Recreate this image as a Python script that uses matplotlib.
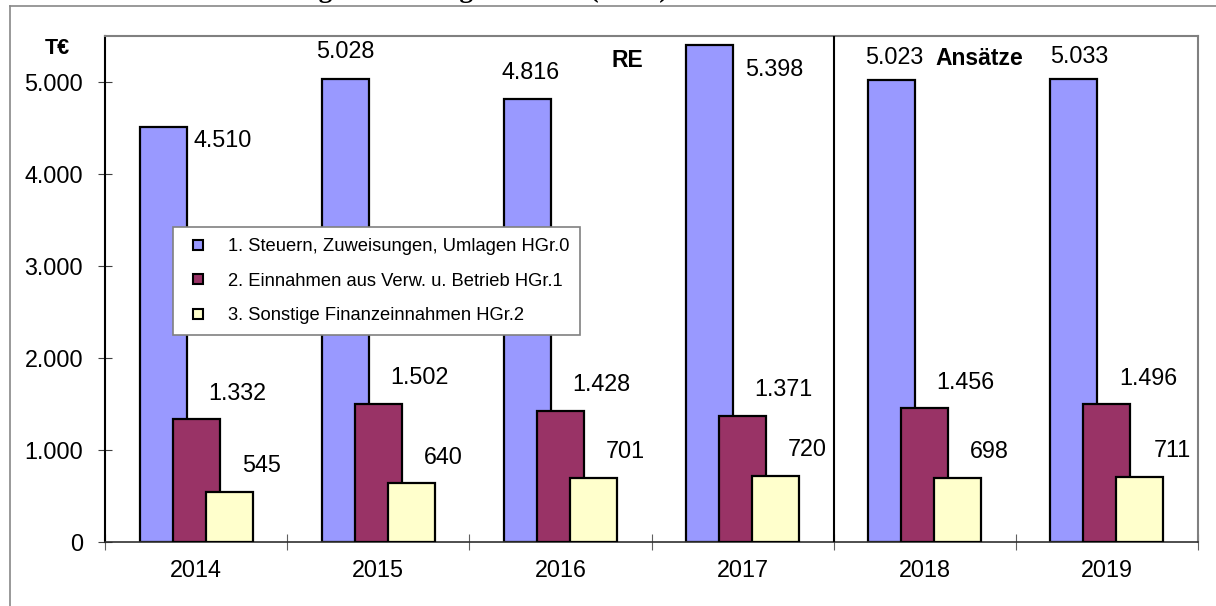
import matplotlib
matplotlib.use('Agg')
import matplotlib.pyplot as plt
from matplotlib.lines import Line2D
from matplotlib.ticker import FuncFormatter
import numpy as np

plt.rcParams['font.family'] = ['Liberation Sans', 'DejaVu Sans']

years = ['2014', '2015', '2016', '2017', '2018', '2019']
steuern = [4510, 5028, 4816, 5398, 5023, 5033]
einnahmen = [1332, 1502, 1428, 1371, 1456, 1496]
sonstige = [545, 640, 701, 720, 698, 711]
series_names = ['1. Steuern, Zuweisungen, Umlagen HGr.0',
                '2. Einnahmen aus Verw. u. Betrieb HGr.1',
                '3. Sonstige Finanzeinnahmen HGr.2']
colors = ['#9999FF', '#993366', '#FFFFCC']

# label offsets in pixels, the labels in the original were moved by hand
blue_offsets = [(60, -13), (0, 28), (3, 26), (65, -24), (2, 22), (5, 22)]
red_offset = (41, 26)
yellow_offset = (32, 26)


def de_fmt(v, pos=None):
    return f"{v:,.0f}".replace(',', '.')


fig = plt.figure(figsize=(12.16, 6.06), dpi=100)
ax = fig.add_axes([105 / 1216, 1 - 542 / 606, 1093 / 1216, 506 / 606])

x = np.arange(len(years))
step = 0.181
width = 0.258
series = [steuern, einnahmen, sonstige]
for i, vals in enumerate(series):
    ax.bar(x + (i - 1) * step, vals, width, color=colors[i],
           edgecolor='black', linewidth=1.6, zorder=2 + i)

for j in range(len(years)):
    dx, dy = blue_offsets[j]
    ax.annotate(de_fmt(steuern[j]), xy=(x[j] - step, steuern[j]), xytext=(dx, dy),
                textcoords='offset pixels', ha='center', va='center', fontsize=16.8)
    ax.annotate(de_fmt(einnahmen[j]), xy=(x[j], einnahmen[j]), xytext=red_offset,
                textcoords='offset pixels', ha='center', va='center', fontsize=16.8)
    ax.annotate(de_fmt(sonstige[j]), xy=(x[j] + step, sonstige[j]), xytext=yellow_offset,
                textcoords='offset pixels', ha='center', va='center', fontsize=16.8)

ax.set_xlim(-0.5, len(years) - 0.5)
ax.set_ylim(0, 5500)
ax.set_yticks(np.arange(0, 5001, 1000))
ax.yaxis.set_major_formatter(FuncFormatter(de_fmt))
ax.tick_params(axis='y', direction='inout', length=9.5, width=0.8, color='#404040',
               labelsize=16.8, pad=11)

ax.set_xticks(np.arange(-0.5, len(years)), minor=False)
ax.set_xticklabels([])
ax.set_xticks(x, minor=True)
ax.set_xticklabels(years, minor=True)
ax.tick_params(axis='x', which='major', direction='inout', length=11, width=0.8, color='#606060')
ax.tick_params(axis='x', which='minor', length=0, labelsize=16.8, pad=12)

ax.spines['left'].set_color('black')
ax.spines['left'].set_linewidth(1.5)
ax.spines['bottom'].set_color('#303030')
ax.spines['bottom'].set_linewidth(1.2)
ax.spines['top'].set_color('#808080')
ax.spines['top'].set_linewidth(1.5)
ax.spines['right'].set_color('#808080')
ax.spines['right'].set_linewidth(1.5)

# Rechnungsergebnisse / Ansaetze separator
ax.axvline(3.5, color='black', linewidth=1.5, zorder=6)
ax.text(2.365, 5230, 'RE', fontsize=16.5, fontweight='bold', ha='center', va='center')
ax.text(4.297, 5260, 'Ansätze', fontsize=16.5, fontweight='bold', ha='center', va='center')

fig.text(57 / 1216, 1 - 48 / 606, 'T€', fontsize=15.5, fontweight='bold', ha='center', va='center')

handles = [Line2D([], [], linestyle='none', marker='s', markersize=7.2,
                  markerfacecolor=c, markeredgecolor='black', markeredgewidth=1.5)
           for c in colors]
leg = ax.legend(handles, series_names, loc='upper left', bbox_to_anchor=(0.062, 0.622),
                fontsize=13.2, frameon=True, fancybox=False, framealpha=1,
                edgecolor='#808080', handlelength=1.55, handletextpad=0.85,
                labelspacing=0.95, borderpad=0.6, borderaxespad=0)
leg.get_frame().set_linewidth(1.2)
leg.set_zorder(10)

# outer chart border and the clipped title above it
fig.add_artist(Line2D([10 / 1216, 10 / 1216], [0, 1 - 6 / 606], color='#888888', linewidth=1.2))
fig.add_artist(Line2D([10 / 1216, 1], [1 - 6 / 606, 1 - 6 / 606], color='#888888', linewidth=1.2))
fig.text(72 / 1216, 1 + 3 / 606, 'Einnahmeentwicklung Verwaltungshaushalt (in T€)',
         family=['Liberation Serif', 'DejaVu Serif'], fontweight='bold', fontsize=19.5,
         ha='left', va='baseline')

fig.savefig('out.png', dpi=100)
